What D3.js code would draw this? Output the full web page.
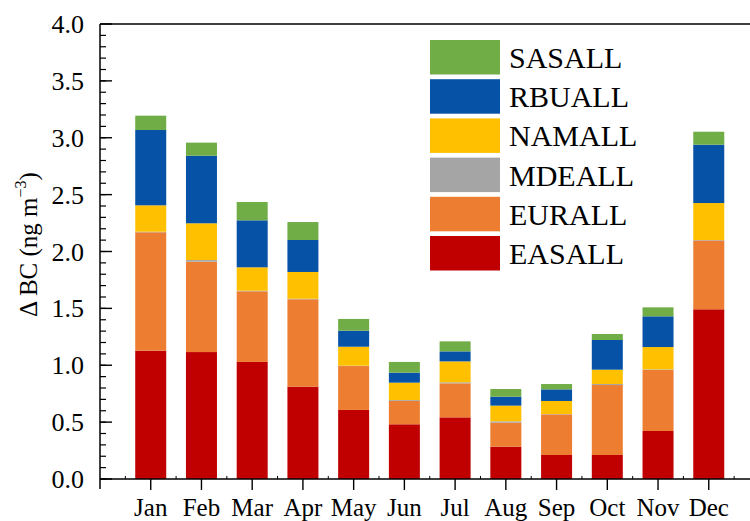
<!DOCTYPE html>
<html><head><meta charset="utf-8"><script src="https://cdn.jsdelivr.net/npm/d3@7"></script></head>
<body style="margin:0">
<svg id="s" width="750" height="521"></svg>
<script>
const months = ["Jan","Feb","Mar","Apr","May","Jun","Jul","Aug","Sep","Oct","Nov","Dec"];
const EASALL = [1.128, 1.116, 1.029, 0.812, 0.607, 0.481, 0.542, 0.284, 0.211, 0.211, 0.422, 1.492];
const EURALL = [1.041, 0.795, 0.621, 0.768, 0.386, 0.205, 0.299, 0.211, 0.357, 0.615, 0.538, 0.605];
const MDEALL = [0.005, 0.014, 0.005, 0.005, 0.003, 0.008, 0.009, 0.012, 0.003, 0.009, 0.004, 0.004];
const NAMALL = [0.232, 0.323, 0.206, 0.235, 0.167, 0.153, 0.184, 0.138, 0.115, 0.126, 0.196, 0.325];
const RBUALL = [0.662, 0.594, 0.413, 0.281, 0.141, 0.088, 0.088, 0.079, 0.102, 0.261, 0.270, 0.513];
const SASALL = [0.126, 0.115, 0.161, 0.158, 0.103, 0.094, 0.088, 0.067, 0.047, 0.053, 0.079, 0.114];
const seriesNames = ["EASALL","EURALL","MDEALL","NAMALL","RBUALL","SASALL"];
const seriesColors = ["#C00000","#ED7D31","#A5A5A5","#FFC000","#0652A6","#70AD47"];
const yTicks = [0.0, 0.5, 1.0, 1.5, 2.0, 2.5, 3.0, 3.5, 4.0];

const seriesValues = [EASALL, EURALL, MDEALL, NAMALL, RBUALL, SASALL];
const table = months.map((m, i) => {
  const row = { month: m, idx: i + 1 };
  seriesNames.forEach((s, k) => row[s] = seriesValues[k][i]);
  return row;
});

const svg = d3.select("#s");
const mLeft = 100, mTop = 24, mBottom = 479, mRight = 750;
const step = 50.73;
const x = d3.scaleLinear().domain([0, 13]).range([mLeft, mLeft + 13 * step]);
const y = d3.scaleLinear().domain([0, 4]).range([mBottom, mTop]);
const barW = 31;

const stacked = d3.stack().keys(seriesNames)(table);
stacked.forEach((layer, k) => {
  svg.append("g")
    .attr("fill", seriesColors[k])
    .selectAll("rect")
    .data(layer)
    .join("rect")
    .attr("x", d => x(d.data.idx) - barW / 2)
    .attr("width", barW)
    .attr("y", d => y(d[1]))
    .attr("height", d => Math.max(0, y(d[0]) - y(d[1])));
});

svg.append("line").attr("x1", mLeft).attr("x2", mRight).attr("y1", mTop).attr("y2", mTop)
  .attr("stroke", "#000").attr("stroke-width", 1.5);
svg.append("line").attr("x1", mLeft).attr("x2", mRight).attr("y1", mBottom).attr("y2", mBottom)
  .attr("stroke", "#000").attr("stroke-width", 1.5);
svg.append("line").attr("x1", mLeft).attr("x2", mLeft).attr("y1", mTop).attr("y2", mBottom + 10)
  .attr("stroke", "#000").attr("stroke-width", 1.5);

const minor = d3.range(0, 40).map(i => i / 10);
svg.append("g").selectAll("line").data(minor).join("line")
  .attr("x1", mLeft).attr("x2", mLeft + 6)
  .attr("y1", d => y(d)).attr("y2", d => y(d))
  .attr("stroke", "#000").attr("stroke-width", 1.2);
svg.append("g").selectAll("line").data(yTicks).join("line")
  .attr("x1", mLeft).attr("x2", mLeft + 12)
  .attr("y1", d => y(d)).attr("y2", d => y(d))
  .attr("stroke", "#000").attr("stroke-width", 1.4);
svg.append("g").selectAll("text").data(yTicks).join("text")
  .attr("x", 84).attr("y", d => y(d) + 9)
  .attr("text-anchor", "end")
  .attr("font-family", d => `'Liberation Serif'`)
  .attr("font-size", 26)
  .text(d => d3.format(".1f")(d));

svg.append("g").selectAll("line").data(table).join("line")
  .attr("x1", d => x(d.idx)).attr("x2", d => x(d.idx))
  .attr("y1", mBottom).attr("y2", mBottom + 11)
  .attr("stroke", "#000").attr("stroke-width", 1.4);
const bounds = d3.range(0, 13).map(i => i + 0.5);
svg.append("g").selectAll("line").data(bounds).join("line")
  .attr("x1", d => x(d)).attr("x2", d => x(d))
  .attr("y1", mBottom).attr("y2", mBottom - 3)
  .attr("stroke", "#000").attr("stroke-width", 1);
svg.append("g").selectAll("text").data(table).join("text")
  .attr("x", d => x(d.idx)).attr("y", 516)
  .attr("text-anchor", "middle")
  .attr("font-family", d => `'Liberation Serif'`)
  .attr("font-size", 25)
  .text(d => d.month);

const title = svg.append("text")
  .attr("transform", "translate(37,317) rotate(-90)")
  .attr("font-family", `'Liberation Serif'`)
  .attr("font-size", 25);
title.append("tspan").text("\u0394 BC (ng m");
title.append("tspan").attr("dy", -11).attr("font-size", 16).text("\u22123");
title.append("tspan").attr("dy", 11).text(")");

const legendOrder = [5, 4, 3, 2, 1, 0];
legendOrder.forEach((k, i) => {
  const ty = 40 + i * 39.2;
  svg.append("rect").attr("x", 430).attr("y", ty).attr("width", 70).attr("height", 34.5)
    .attr("fill", seriesColors[k]);
  svg.append("text").attr("x", 509).attr("y", ty + 28)
    .attr("font-family", `'Liberation Serif'`)
    .attr("font-size", 30)
    .text(seriesNames[k]);
});
</script></body></html>
